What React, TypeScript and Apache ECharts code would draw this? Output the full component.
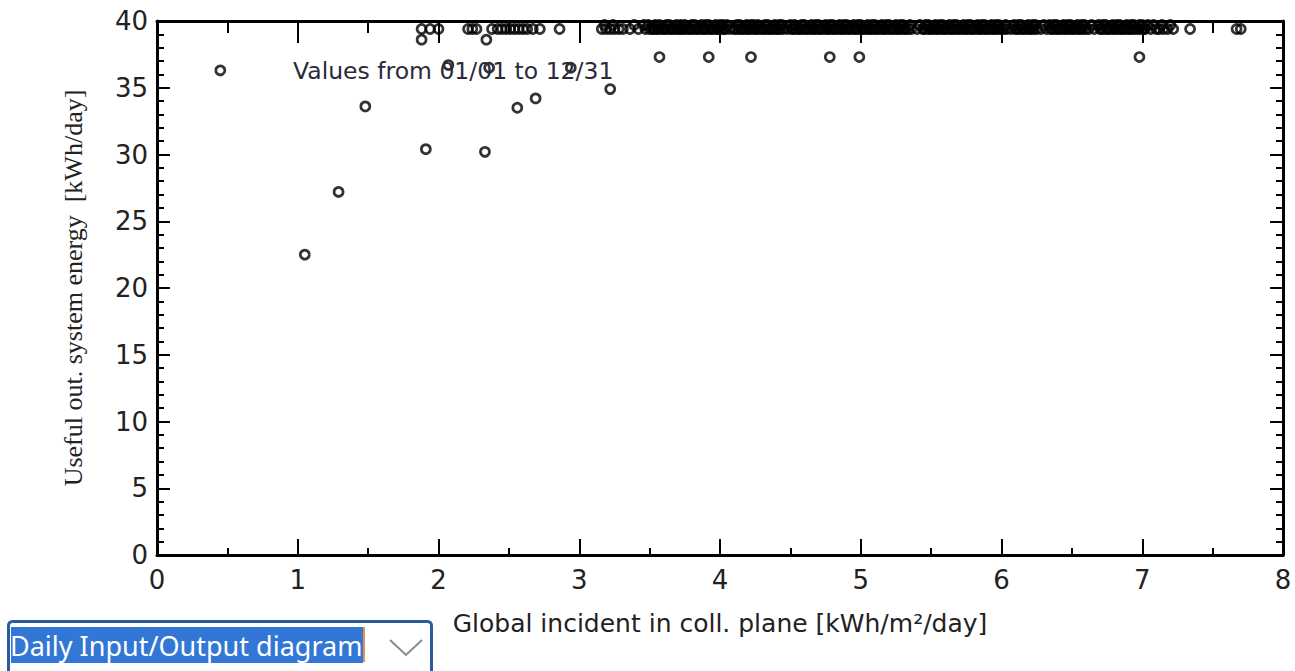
import React, { useEffect, useRef } from "react";
import * as echarts from "echarts";

const xTicks = [0, 1, 2, 3, 4, 5, 6, 7, 8];
const yTicks = [0, 5, 10, 15, 20, 25, 30, 35, 40];

// Scattered days (incident, output)
const scatterX = [0.45, 1.05, 1.29, 1.48, 1.88, 1.91, 2.07, 2.33, 2.34, 2.36, 2.56, 2.69, 2.94, 3.22, 3.57, 3.92, 4.22, 4.78, 4.99, 6.98];
const scatterY = [36.3, 22.5, 27.2, 33.6, 38.6, 30.4, 36.7, 30.2, 38.6, 36.5, 33.5, 34.2, 36.5, 34.9, 37.3, 37.3, 37.3, 37.3, 37.3, 37.3];

// Days where the full need was met (output at its ceiling, ~39.4 kWh/day)
const fullOutput = 39.4;
const fullX = [
  1.88, 1.94, 2.0,
  2.21, 2.24, 2.27, 2.38, 2.42, 2.45, 2.48, 2.51, 2.54, 2.57, 2.6, 2.63, 2.67, 2.72, 2.86,
  3.16, 3.19, 3.22, 3.25, 3.28, 3.31, 3.36, 3.42, 3.47, 3.5, 3.52, 3.53, 3.55, 3.56, 3.58,
  3.6, 3.61, 3.63, 3.65, 3.66, 3.68, 3.7, 3.71, 3.73, 3.74, 3.76, 3.78, 3.79, 3.81, 3.83,
  3.84, 3.86, 3.88, 3.89, 3.91, 3.93, 3.94, 3.96, 3.98, 3.99, 4.01, 4.03, 4.04, 4.07, 4.1,
  4.11, 4.13, 4.15, 4.16, 4.18, 4.2, 4.21, 4.23, 4.25, 4.26, 4.28, 4.3, 4.31, 4.33, 4.35,
  4.36, 4.38, 4.4, 4.41, 4.43, 4.45, 4.48, 4.51, 4.52, 4.54, 4.56, 4.57, 4.59, 4.61, 4.62,
  4.64, 4.66, 4.67, 4.69, 4.71, 4.72, 4.74, 4.76, 4.77, 4.79, 4.81, 4.82, 4.84, 4.86, 4.87,
  4.89, 4.91, 4.92, 4.94, 4.96, 4.97, 4.99, 5.01, 5.02, 5.04, 5.06, 5.07, 5.09, 5.11, 5.12,
  5.14, 5.16, 5.17, 5.19, 5.21, 5.22, 5.24, 5.26, 5.27, 5.29, 5.31, 5.32, 5.34, 5.36, 5.4,
  5.44, 5.45, 5.47, 5.49, 5.5, 5.52, 5.54, 5.55, 5.57, 5.59, 5.6, 5.62, 5.64, 5.65, 5.67,
  5.69, 5.7, 5.72, 5.74, 5.75, 5.77, 5.79, 5.8, 5.82, 5.84, 5.85, 5.87, 5.89, 5.9, 5.92,
  5.94, 5.95, 5.97, 5.99, 6.0, 6.02, 6.04, 6.07, 6.1, 6.11, 6.13, 6.15, 6.16, 6.18, 6.2,
  6.21, 6.23, 6.25, 6.28, 6.32, 6.35, 6.36, 6.38, 6.4, 6.41, 6.43, 6.45, 6.46, 6.48, 6.5,
  6.51, 6.53, 6.55, 6.56, 6.58, 6.6, 6.62, 6.66, 6.7, 6.71, 6.73, 6.75, 6.76, 6.78, 6.8,
  6.81, 6.83, 6.85, 6.86, 6.88, 6.9, 6.91, 6.93, 6.95, 6.97, 6.99, 7.01, 7.02, 7.06, 7.1,
  7.12, 7.15, 7.18, 7.22, 7.34, 7.67, 7.7,
];

// Full-need days sitting slightly higher (~39.7 kWh/day)
const fullOutputHigh = 39.7;
const fullXHigh = [
  3.18, 3.24, 3.39,
  3.46, 3.49, 3.54, 3.57, 3.62, 3.64, 3.69, 3.72, 3.75, 3.8, 3.82, 3.87, 3.9, 3.92, 3.97,
  4.0, 4.02, 4.05, 4.12, 4.14, 4.19, 4.22, 4.24, 4.27, 4.32, 4.34, 4.39, 4.42, 4.44, 4.5,
  4.53, 4.58, 4.6, 4.65, 4.68, 4.7, 4.75, 4.78, 4.8, 4.85, 4.88, 4.9, 4.95, 4.98, 5.0,
  5.05, 5.08, 5.1, 5.15, 5.18, 5.2, 5.25, 5.28, 5.3, 5.35, 5.42, 5.46, 5.48, 5.53, 5.56,
  5.58, 5.63, 5.66, 5.68, 5.73, 5.76, 5.78, 5.83, 5.86, 5.88, 5.93, 5.96, 5.98, 6.03, 6.09,
  6.12, 6.14, 6.19, 6.22, 6.24, 6.3, 6.34, 6.37, 6.39, 6.44, 6.47, 6.49, 6.54, 6.57, 6.59,
  6.64, 6.69, 6.72, 6.74, 6.79, 6.82, 6.84, 6.89, 6.92, 6.94, 6.98, 7.0, 7.04, 7.08, 7.14, 7.2,
];

const noteText = "Values from 01/01 to 12/31";
const xTitle = "Global incident in coll. plane [kWh/m\u00b2/day]";
const yTitle = "Useful out. system energy  [kWh/day]";
const selectorText = "Daily Input/Output diagram";

export default function App() {
  const ref = useRef<HTMLDivElement>(null);
  useEffect(() => {
    if (!ref.current) return;
    const chart = echarts.init(ref.current, undefined, { renderer: "svg" });
    const points: number[][] = [];
    scatterX.forEach((x, i) => points.push([x, scatterY[i]]));
    fullX.forEach((x) => points.push([x, fullOutput]));
    fullXHigh.forEach((x) => points.push([x, fullOutputHigh]));

    const sans = "DejaVu Sans, Verdana, sans-serif";
    const labelStyle = { fontFamily: sans, fontSize: 26, color: "#222" };
    const xMin = xTicks[0];
    const xMax = xTicks[xTicks.length - 1];
    const yMin = yTicks[0];
    const yMax = yTicks[yTicks.length - 1];
    const xInt = xTicks[1] - xTicks[0];
    const yInt = yTicks[1] - yTicks[0];
    const line = { color: "#000", width: 2 };

    chart.setOption({
      animation: false,
      backgroundColor: "#fff",
      grid: { left: 157, right: 12, top: 21, bottom: 116 },
      xAxis: [
        {
          type: "value", position: "bottom", min: xMin, max: xMax, interval: xInt,
          axisLine: { show: true, onZero: false, lineStyle: { color: "#000", width: 3 } },
          axisTick: { show: true, inside: true, length: 16, lineStyle: line },
          minorTick: { show: true, splitNumber: 2, length: 7, lineStyle: line },
          splitLine: { show: false },
          axisLabel: { ...labelStyle, margin: 12 },
          name: xTitle, nameLocation: "middle", nameGap: 56,
          nameTextStyle: { fontFamily: sans, fontSize: 25, color: "#222" },
        },
        {
          type: "value", position: "top", min: xMin, max: xMax, interval: xInt,
          axisLine: { show: true, onZero: false, lineStyle: { color: "#000", width: 3 } },
          axisTick: { show: true, inside: true, length: 22, lineStyle: line },
          minorTick: { show: true, splitNumber: 2, length: 12, lineStyle: line },
          splitLine: { show: false },
          axisLabel: { show: false },
        },
      ],
      yAxis: [
        {
          type: "value", position: "left", min: yMin, max: yMax, interval: yInt,
          axisLine: { show: true, onZero: false, lineStyle: { color: "#000", width: 3 } },
          axisTick: { show: true, inside: true, length: 13, lineStyle: line },
          minorTick: { show: true, splitNumber: 5, length: 7, lineStyle: line },
          splitLine: { show: false },
          axisLabel: { ...labelStyle, margin: 9 },
          name: yTitle, nameLocation: "middle", nameGap: 71, nameRotate: 90,
          nameTextStyle: { fontFamily: "Liberation Serif, Times New Roman, serif", fontSize: 26, color: "#222" },
        },
        {
          type: "value", position: "right", min: yMin, max: yMax, interval: yInt,
          axisLine: { show: true, onZero: false, lineStyle: { color: "#000", width: 3 } },
          axisTick: { show: true, inside: true, length: 13, lineStyle: line },
          minorTick: { show: true, splitNumber: 5, length: 7, lineStyle: line },
          splitLine: { show: false },
          axisLabel: { show: false },
        },
      ],
      series: [
        {
          type: "scatter",
          data: points,
          symbol: "circle",
          symbolSize: 9,
          clip: false,
          itemStyle: { color: "rgba(0,0,0,0)", borderColor: "#000", borderWidth: 2.7 },
        },
      ],
      graphic: [
        {
          type: "text", left: 293, top: 59, z: 10,
          style: { text: noteText, fontFamily: sans, fontSize: 23.5, fill: "#2a2a3a" },
        },
        {
          type: "rect", z: 10,
          shape: { x: 8.5, y: 621.5, width: 423, height: 60, r: 4 },
          style: { fill: "#fff", stroke: "#2c5aa0", lineWidth: 3 },
        },
        {
          type: "rect", z: 11,
          shape: { x: 11, y: 627, width: 352, height: 36 },
          style: { fill: "#3377d6" },
        },
        {
          type: "text", z: 12, x: 10, y: 645,
          style: { text: selectorText, fontFamily: "Noto Sans, Open Sans, sans-serif", fontSize: 27, fill: "#fff", verticalAlign: "middle" },
        },
        {
          type: "line", z: 12,
          shape: { x1: 364, y1: 627, x2: 364, y2: 662 },
          style: { stroke: "#e8904a", lineWidth: 2 },
        },
        {
          type: "polyline", z: 12,
          shape: { points: [[390, 640], [406, 655], [422, 640]] },
          style: { stroke: "#8a8a8a", lineWidth: 2, fill: "none" },
        },
      ],
    });
    return () => chart.dispose();
  }, []);
  return <div ref={ref} style={{ width: 1295, height: 671, position: "absolute", left: 0, top: 0 }} />;
}
